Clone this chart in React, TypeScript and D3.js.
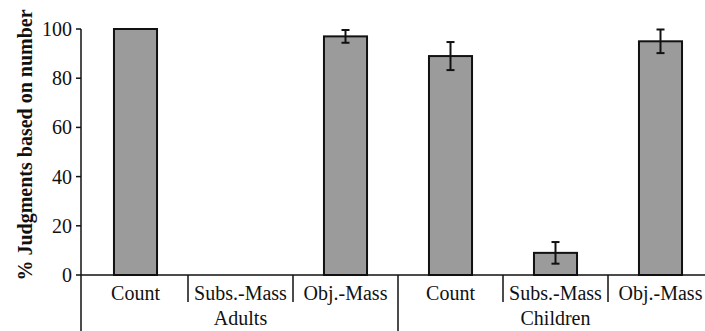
import * as d3 from "d3";

const groups = ["Adults", "Children"];
const conditions = ["Count", "Subs.-Mass", "Obj.-Mass"];
const means = [100, 0, 97, 89, 9, 95];
const errors = [0, 0, 2.6, 5.7, 4.4, 4.8];
const yTicks = [0, 20, 40, 60, 80, 100];

const W = 705;
const H = 331;
const axisX = 81;

const App = () => {
  const keys = groups.flatMap((g) => conditions.map((c) => `${g}|${c}`));
  const x = d3.scaleBand().domain(keys).range([83, 713]).padding(0);
  const y = d3.scaleLinear().domain([0, 100]).range([275, 29]);
  const step = x.bandwidth();
  const barW = step * 0.41;
  const txt = { fontFamily: "Liberation Serif, DejaVu Serif, serif", fontSize: "20px", fill: "#111" };

  return (
    <svg width={W} height={H} style={{ position: "absolute", left: 0, top: 0, background: "#fff" }}>
      {/* bars */}
      {keys.map((k, i) => {
        const cx = x(k)! + step / 2;
        const v = means[i];
        const e = errors[i];
        return (
          <g key={k}>
            <rect
              x={cx - barW / 2}
              y={y(v)}
              width={barW}
              height={y(0) - y(v)}
              fill="#9b9b9b"
              stroke="#111"
              strokeWidth={2}
            />
            {e > 0 && (
              <g stroke="#111" strokeWidth={2}>
                <line x1={cx} x2={cx} y1={y(v + e)} y2={y(v - e)} />
                <line x1={cx - 4} x2={cx + 4} y1={y(v + e)} y2={y(v + e)} />
                <line x1={cx - 4} x2={cx + 4} y1={y(v - e)} y2={y(v - e)} />
              </g>
            )}
          </g>
        );
      })}

      {/* y axis */}
      <line x1={axisX} x2={axisX} y1={y(100)} y2={H} stroke="#111" strokeWidth={1.5} />
      {yTicks.map((t) => (
        <g key={t}>
          <line x1={axisX - 5} x2={axisX} y1={y(t)} y2={y(t)} stroke="#111" strokeWidth={1.5} />
          <text x={72} y={y(t)} dy="0.35em" textAnchor="end" style={txt}>
            {t}
          </text>
        </g>
      ))}
      <text
        transform="translate(25, 145) rotate(-90)"
        textAnchor="middle"
        dy="0.35em"
        style={{ ...txt, fontWeight: "bold" }}
      >
        % Judgments based on number
      </text>

      {/* x axis */}
      <line x1={axisX} x2={W} y1={y(0)} y2={y(0)} stroke="#111" strokeWidth={1.5} />
      {keys.map((k, i) => {
        const left = x(k)!;
        const isGroupStart = i % conditions.length === 0;
        return (
          <g key={`lab-${k}`}>
            {i > 0 && (
              <line
                x1={left}
                x2={left}
                y1={y(0)}
                y2={isGroupStart ? H : 302}
                stroke="#111"
                strokeWidth={1.5}
              />
            )}
            <text x={left + step / 2} y={300} textAnchor="middle" style={txt}>
              {conditions[i % conditions.length]}
            </text>
          </g>
        );
      })}
      {groups.map((g) => {
        const first = x(`${g}|${conditions[0]}`)!;
        const last = x(`${g}|${conditions[conditions.length - 1]}`)! + step;
        return (
          <text key={g} x={(first + last) / 2} y={325} textAnchor="middle" style={txt}>
            {g}
          </text>
        );
      })}
    </svg>
  );
};

export default App;
